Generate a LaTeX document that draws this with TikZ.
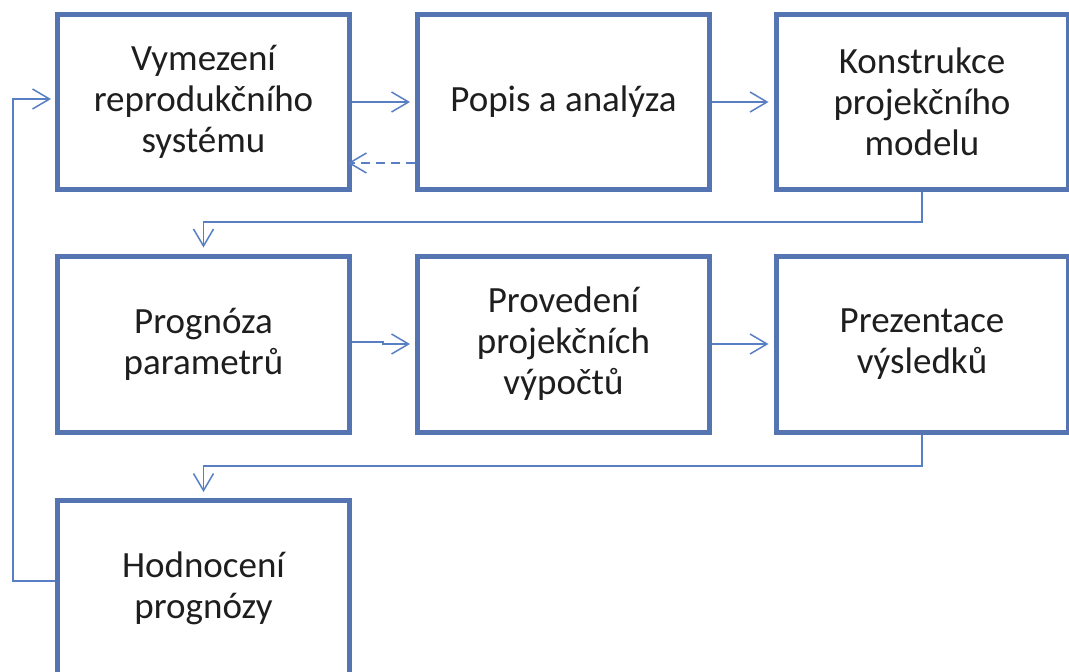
\documentclass[tikz,border=0pt]{standalone}
\usepackage{fontspec}
\setmainfont{Carlito}
\usetikzlibrary{arrows.meta}
\definecolor{boxblue}{RGB}{84,116,178}
\definecolor{lineblue}{RGB}{88,126,196}
\definecolor{txt}{RGB}{30,30,30}
\tikzset{
  stepbox/.style={draw=boxblue, line width=5pt, rectangle, inner sep=0pt,
    minimum width=292pt, minimum height=175pt, align=center,
    text=txt, font=\fontsize{37}{41}\selectfont},
  conn/.style={draw=lineblue, line width=1.5pt,
    -{Straight Barb[length=17pt,width=20pt,line width=1.5pt]}},
}
\begin{document}
\begin{tikzpicture}[x=1pt,y=-1pt]
\useasboundingbox (0,0) rectangle (1069,672);
\node[stepbox] (b1) at (203.5,102) {Vymezení\\reprodukčního\\systému};
\node[stepbox] (b2) at (563.5,102) {Popis a analýza};
\node[stepbox] (b3) at (922,102) {Konstrukce\\projekčního\\modelu};
\node[stepbox, minimum height=176pt] (b4) at (203.5,344) {Prognóza\\parametrů};
\node[stepbox, minimum height=176pt] (b5) at (563.5,344) {Provedení\\projekčních\\výpočtů};
\node[stepbox, minimum height=176pt] (b6) at (922,344) {Prezentace\\výsledků};
\node[stepbox] (b7) at (203.5,588) {Hodnocení\\prognózy};
\coordinate (j1) at (0,222);
\coordinate (j2) at (0,466);
\coordinate (fb) at (13,99);
\coordinate (jog) at (383,342);
\draw[conn, shorten >=5pt] (b1.east) -- (b2.west);
\draw[conn, shorten >=5pt] (b2.east) -- (b3.west);
\draw[conn, dashed, dash pattern=on 9pt off 6pt, shorten >=-4pt] ([yshift=-61pt]b2.west) -- ([yshift=-61pt]b1.east);
\draw[conn, shorten >=6pt] (b3.south) -- (b3.south |- j1) -| (b4.north);
\draw[conn, shorten >=5pt] (b4.east |- jog) -- (jog) |- (b5.west);
\draw[conn, shorten >=5pt] (b5.east) -- (b6.west);
\draw[conn, shorten >=6pt] (b6.south) -- (b6.south |- j2) -| (b7.north);
\draw[conn, shorten >=4pt] ([yshift=7pt]b7.west) -| (fb) -- ([yshift=3pt]b1.west);
\end{tikzpicture}
\end{document}
